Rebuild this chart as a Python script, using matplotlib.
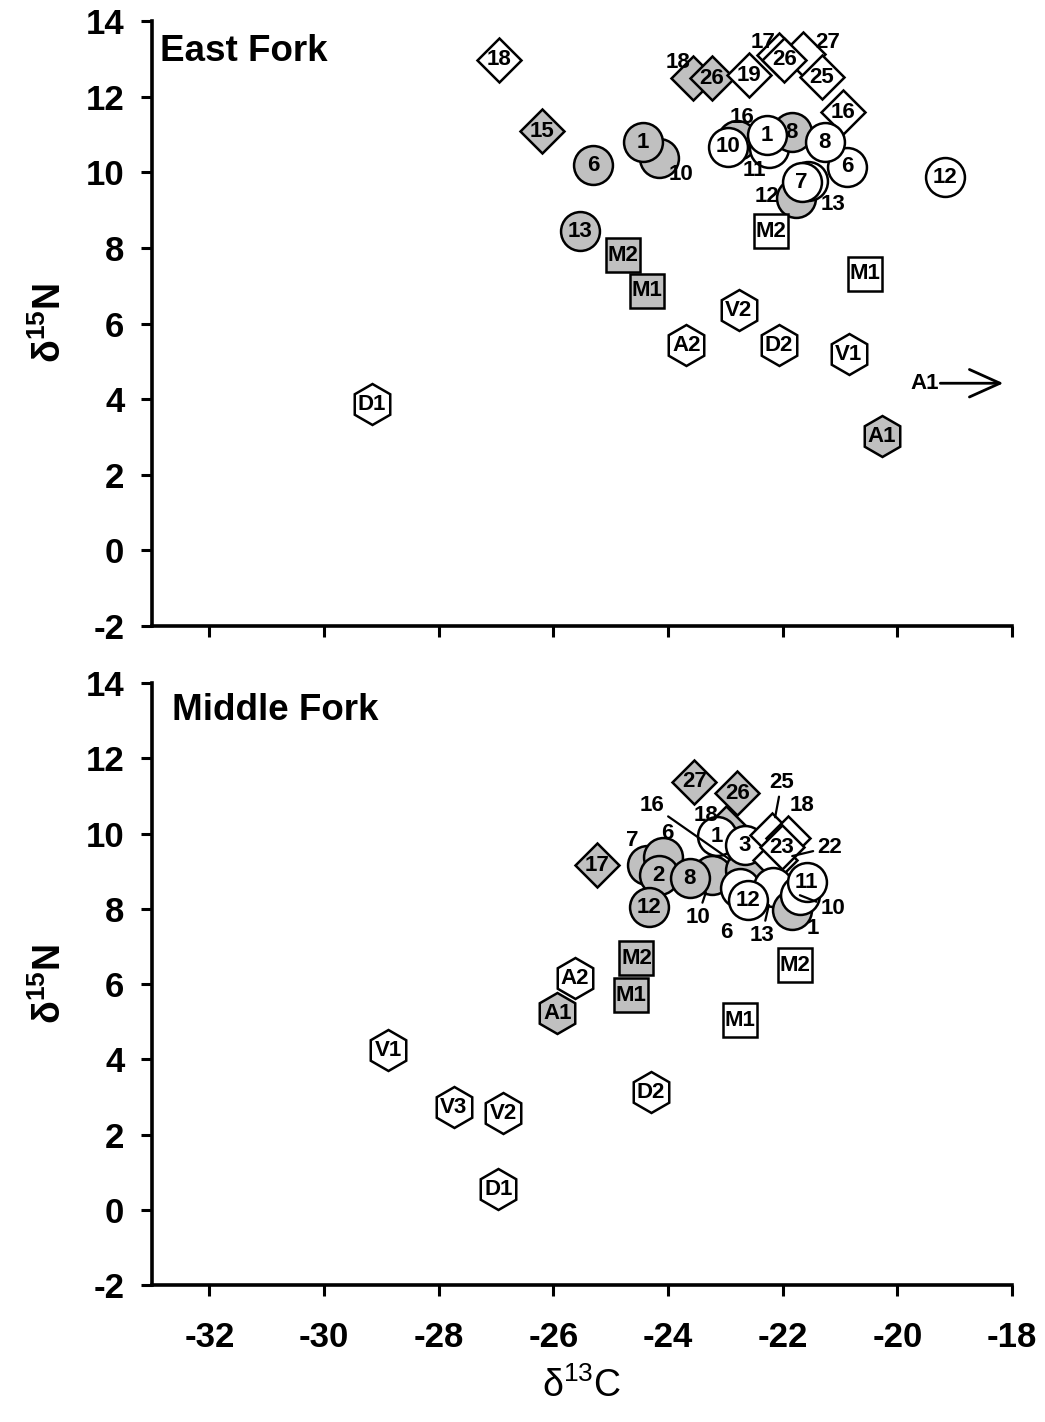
import matplotlib
matplotlib.use('Agg')
import matplotlib.pyplot as plt

plt.rcParams['font.family'] = ['Liberation Sans', 'DejaVu Sans']
plt.rcParams['mathtext.fontset'] = 'custom'
plt.rcParams['mathtext.rm'] = 'Liberation Sans'
plt.rcParams['mathtext.bf'] = 'Liberation Sans:bold'
plt.rcParams['mathtext.it'] = 'Liberation Sans:italic'
plt.rcParams['axes.unicode_minus'] = False

# ---------------- data: East Fork ----------------
east_labels = ['D1', '18', '15', '6', '13', '10', '1', 'M2', 'M1', '18', '26', '19',
               '17', '27', '26', '25', '16', '16', '10', '11', '8', '1', '6', '8',
               '12', '13', '7', '12', 'M2', 'M1', 'V2', 'A2', 'D2', 'V1', 'A1']
east_x = [-29.17, -26.94, -26.20, -25.30, -25.54, -24.15, -24.44, -24.79, -24.37, -23.57,
          -23.24, -22.58, -22.07, -21.65, -21.97, -21.32, -20.95, -22.80, -22.96, -22.23,
          -21.84, -22.28, -20.87, -21.27, -21.76, -21.56, -21.67, -19.17, -22.21, -20.57,
          -22.77, -23.68, -22.07, -20.85, -20.27]
east_y = [3.87, 12.97, 11.09, 10.19, 8.44, 10.38, 10.80, 7.81, 6.86, 12.49,
          12.49, 12.57, 13.10, 13.13, 12.97, 12.52, 11.59, 10.85, 10.67, 10.64,
          11.06, 10.98, 10.14, 10.80, 9.32, 9.77, 9.74, 9.87, 8.44, 7.31,
          6.35, 5.43, 5.43, 5.19, 3.02]
east_shape = ['hexagon', 'diamond', 'diamond', 'circle', 'circle', 'circle', 'circle', 'square',
              'square', 'diamond', 'diamond', 'diamond', 'diamond', 'diamond', 'diamond',
              'diamond', 'diamond', 'circle', 'circle', 'circle', 'circle', 'circle', 'circle',
              'circle', 'circle', 'circle', 'circle', 'circle', 'square', 'square', 'hexagon',
              'hexagon', 'hexagon', 'hexagon', 'hexagon']
east_fill = ['open', 'open', 'gray', 'gray', 'gray', 'gray', 'gray', 'gray', 'gray', 'gray',
             'gray', 'open', 'open', 'open', 'open', 'open', 'open', 'gray', 'open', 'open',
             'gray', 'open', 'open', 'open', 'gray', 'open', 'open', 'open', 'open', 'open',
             'open', 'open', 'open', 'open', 'gray']
east_offscale_label = 'A1'
east_offscale_y = 4.42

# ---------------- data: Middle Fork ----------------
middle_labels = ['V1', 'V3', 'V2', 'D1', 'D2', 'A2', 'A1', 'M2', 'M1', 'M2', 'M1', '17',
                 '27', '26', '7', '6', '2', '12', '10', '8', '16', '18', '1', '3', '25',
                 '18', '22', '23', '6', '13', '12', '1', '10', '11']
middle_x = [-28.88, -27.74, -26.87, -26.96, -24.30, -25.63, -25.93, -24.55, -24.64, -21.79,
            -22.75, -25.23, -23.54, -22.79, -24.37, -24.09, -24.16, -24.34, -23.24, -23.62,
            -22.66, -22.98, -23.14, -22.66, -22.19, -21.90, -22.14, -22.02, -22.75, -22.17,
            -22.61, -21.83, -21.70, -21.58]
middle_y = [4.24, 2.72, 2.56, 0.54, 3.12, 6.15, 5.22, 6.69, 5.70, 6.50,
            5.04, 9.16, 11.37, 11.07, 9.16, 9.37, 8.89, 8.04, 8.89, 8.81,
            9.03, 10.14, 9.93, 9.69, 9.96, 9.88, 9.29, 9.64, 8.55, 8.57,
            8.23, 7.96, 8.36, 8.71]
middle_shape = ['hexagon', 'hexagon', 'hexagon', 'hexagon', 'hexagon', 'hexagon', 'hexagon',
                'square', 'square', 'square', 'square', 'diamond', 'diamond', 'diamond',
                'circle', 'circle', 'circle', 'circle', 'circle', 'circle', 'circle', 'diamond',
                'circle', 'circle', 'diamond', 'diamond', 'diamond', 'diamond', 'circle',
                'circle', 'circle', 'circle', 'circle', 'circle']
middle_fill = ['open', 'open', 'open', 'open', 'open', 'open', 'gray', 'gray', 'gray', 'open',
               'open', 'gray', 'gray', 'gray', 'gray', 'gray', 'gray', 'gray', 'gray', 'gray',
               'gray', 'gray', 'open', 'open', 'open', 'open', 'open', 'open', 'open', 'open',
               'open', 'gray', 'open', 'open']

x_ticks = [-32, -30, -28, -26, -24, -22, -20, -18]
y_ticks = [-2, 0, 2, 4, 6, 8, 10, 12, 14]

# ---------------- layout (label placement, in figure pixels) ----------------
# index -> (dx, dy_down, leader_line)
east_outside = {5: (22, 17, False), 9: (-15, -16, False), 12: (-16, -13, False),
                13: (25, -11, False), 17: (5, -23, False), 19: (-15, 22, False),
                24: (-29, -1, False), 25: (25, 24, False)}
middle_outside = {14: (-15, -25, False), 15: (4, -24, False), 18: (-14, 42, True),
                  20: (-93, -65, True), 21: (-20, -13, False), 24: (10, -53, True),
                  25: (14, -33, False), 26: (55, -13, True), 28: (-13, 44, False),
                  29: (-11, 48, True), 31: (20, 18, False), 32: (33, 13, True)}

SHAPES = {'circle': ('o', 28), 'diamond': ('D', 22.5), 'square': ('s', 24), 'hexagon': ('h', 29.5)}
FILLS = {'gray': '#c0c0c0', 'open': 'white'}
PX = 0.72  # points per pixel at dpi 100

fig = plt.figure(figsize=(10.45, 14.22), dpi=100)
ax_top = fig.add_axes([0.1455, 0.5598, 0.8229, 0.4254])
ax_bot = fig.add_axes([0.1455, 0.0963, 0.8229, 0.4234])


def draw_panel(ax, labels, xs, ys, shapes, fills, outside):
    for i, (lab, x, y, sh, fl) in enumerate(zip(labels, xs, ys, shapes, fills)):
        m, ms = SHAPES[sh]
        z = 10 + i
        ax.plot([x], [y], marker=m, ms=ms, mfc=FILLS[fl], mec='black', mew=1.8,
                ls='none', zorder=z, clip_on=False)
        if i in outside:
            dx, dy, line = outside[i]
            kw = {}
            if line:
                kw['arrowprops'] = dict(arrowstyle='-', lw=1.6, color='black',
                                        shrinkA=1, shrinkB=13)
            ax.annotate(lab, xy=(x, y), xytext=(dx * PX, -dy * PX), textcoords='offset points',
                        ha='center', va='center', fontsize=16, fontweight='bold',
                        zorder=200, annotation_clip=False, **kw)
        else:
            ax.text(x, y, lab, ha='center', va='center', fontsize=16, fontweight='bold',
                    zorder=z + 0.5)


def style_axes(ax, show_xlabels):
    ax.set_xlim(-33, -18)
    ax.set_ylim(-2, 14)
    ax.set_xticks(x_ticks)
    ax.set_yticks(y_ticks)
    for s in ['top', 'right']:
        ax.spines[s].set_visible(False)
    for s in ['left', 'bottom']:
        ax.spines[s].set_linewidth(2.6)
    ax.tick_params(axis='both', direction='out', length=8, width=2.2, labelsize=25)
    ax.tick_params(axis='y', pad=12)
    ax.tick_params(axis='x', pad=18)
    if not show_xlabels:
        ax.tick_params(axis='x', labelbottom=False)
    for t in ax.get_xticklabels() + ax.get_yticklabels():
        t.set_fontweight('bold')
    ax.set_ylabel(r'δ$^{\mathbf{15}}$N', fontsize=27, fontweight='bold')
    ax.yaxis.set_label_coords(-0.097, 0.5)


draw_panel(ax_top, east_labels, east_x, east_y, east_shape, east_fill, east_outside)
draw_panel(ax_bot, middle_labels, middle_x, middle_y, middle_shape, middle_fill, middle_outside)

style_axes(ax_top, False)
style_axes(ax_bot, True)

# off-scale A1 arrow (East Fork)
ax_top.annotate('', xy=(-18.15, east_offscale_y), xytext=(-19.25, east_offscale_y),
                arrowprops=dict(arrowstyle='->,head_length=1.0,head_width=0.45', lw=2,
                                color='black', mutation_scale=22, shrinkA=0, shrinkB=0),
                annotation_clip=False, zorder=200)
ax_top.text(-19.27, east_offscale_y, east_offscale_label, ha='right', va='center',
            fontsize=16, fontweight='bold')

ax_top.text(0.009, 0.949, 'East Fork', transform=ax_top.transAxes, ha='left', va='center',
            fontsize=26.5, fontweight='bold')
ax_bot.text(0.023, 0.955, 'Middle Fork', transform=ax_bot.transAxes, ha='left', va='center',
            fontsize=26.5, fontweight='bold')

ax_bot.set_xlabel(r'δ$^{13}$C', fontsize=27)
ax_bot.xaxis.set_label_coords(0.5, -0.136)

fig.savefig('out.png', dpi=100)
